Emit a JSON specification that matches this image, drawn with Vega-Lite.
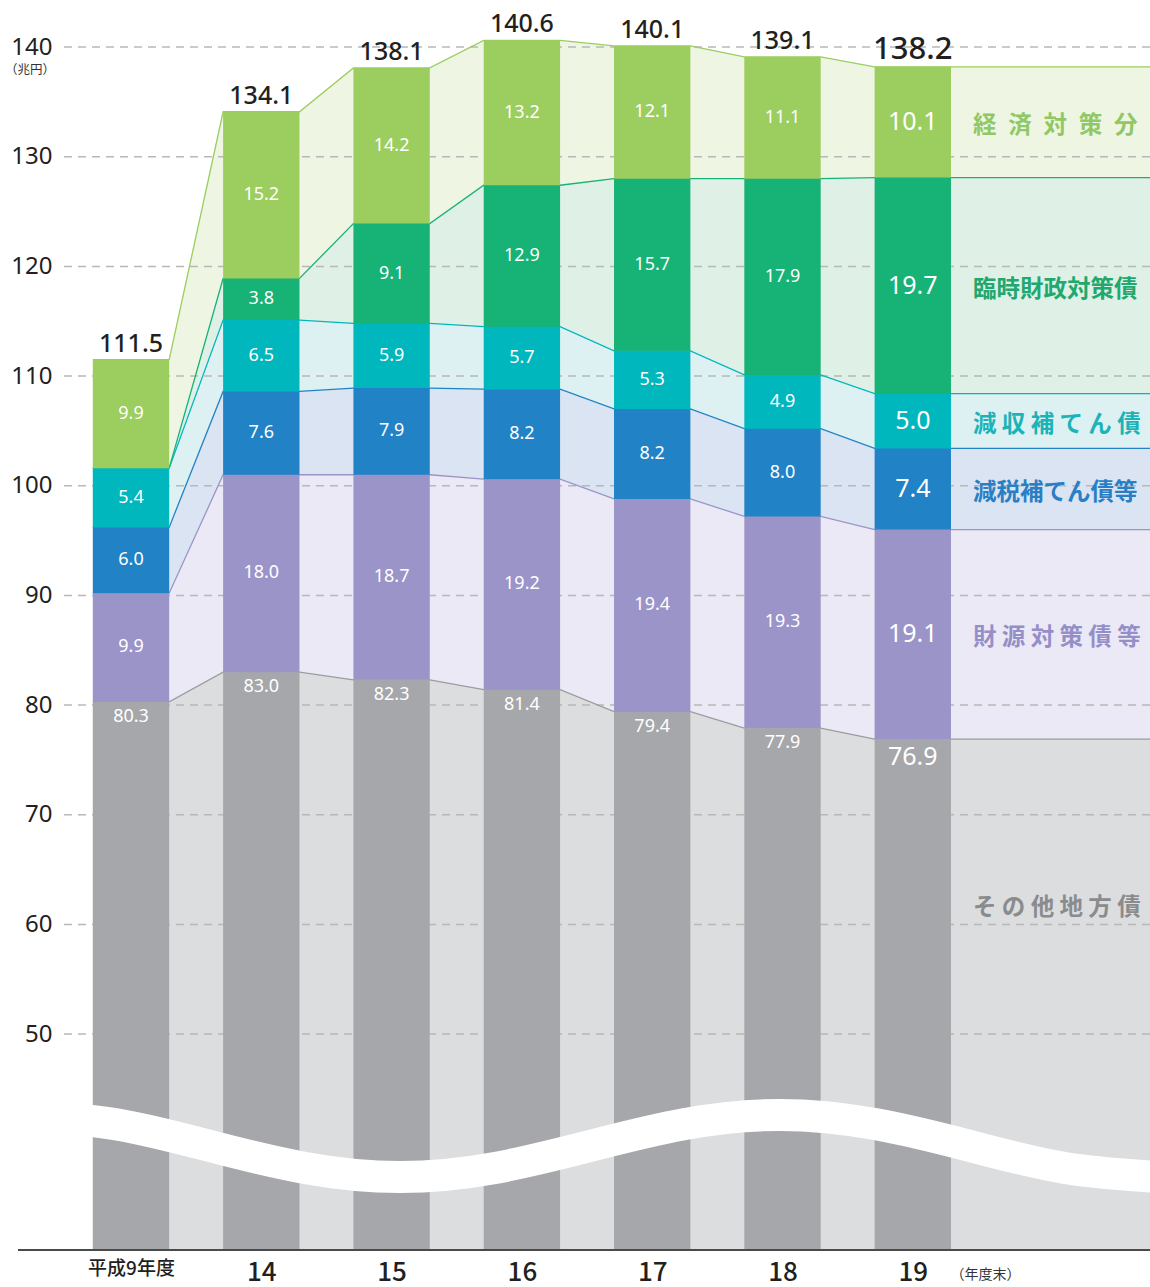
{
  "$schema": "https://vega.github.io/schema/vega-lite/v6.json",
  "width": 1092,
  "height": 1250,
  "autosize": {"type": "none"},
  "padding": {"left": 58, "top": 0, "right": 0, "bottom": 37},
  "background": "white",
  "config": {"view": {"stroke": null}, "font": "Noto Sans CJK JP"},
  "datasets": {
    "debt": [
      {"i": 0, "year": "平成9年度", "cat": "その他地方債", "ord": 0, "v": 80.3},
      {"i": 0, "year": "平成9年度", "cat": "財源対策債等", "ord": 1, "v": 9.9},
      {"i": 0, "year": "平成9年度", "cat": "減税補てん債等", "ord": 2, "v": 6.0},
      {"i": 0, "year": "平成9年度", "cat": "減収補てん債", "ord": 3, "v": 5.4},
      {"i": 0, "year": "平成9年度", "cat": "臨時財政対策債", "ord": 4, "v": 0},
      {"i": 0, "year": "平成9年度", "cat": "経済対策分", "ord": 5, "v": 9.9},
      {"i": 1, "year": "14", "cat": "その他地方債", "ord": 0, "v": 83.0},
      {"i": 1, "year": "14", "cat": "財源対策債等", "ord": 1, "v": 18.0},
      {"i": 1, "year": "14", "cat": "減税補てん債等", "ord": 2, "v": 7.6},
      {"i": 1, "year": "14", "cat": "減収補てん債", "ord": 3, "v": 6.5},
      {"i": 1, "year": "14", "cat": "臨時財政対策債", "ord": 4, "v": 3.8},
      {"i": 1, "year": "14", "cat": "経済対策分", "ord": 5, "v": 15.2},
      {"i": 2, "year": "15", "cat": "その他地方債", "ord": 0, "v": 82.3},
      {"i": 2, "year": "15", "cat": "財源対策債等", "ord": 1, "v": 18.7},
      {"i": 2, "year": "15", "cat": "減税補てん債等", "ord": 2, "v": 7.9},
      {"i": 2, "year": "15", "cat": "減収補てん債", "ord": 3, "v": 5.9},
      {"i": 2, "year": "15", "cat": "臨時財政対策債", "ord": 4, "v": 9.1},
      {"i": 2, "year": "15", "cat": "経済対策分", "ord": 5, "v": 14.2},
      {"i": 3, "year": "16", "cat": "その他地方債", "ord": 0, "v": 81.4},
      {"i": 3, "year": "16", "cat": "財源対策債等", "ord": 1, "v": 19.2},
      {"i": 3, "year": "16", "cat": "減税補てん債等", "ord": 2, "v": 8.2},
      {"i": 3, "year": "16", "cat": "減収補てん債", "ord": 3, "v": 5.7},
      {"i": 3, "year": "16", "cat": "臨時財政対策債", "ord": 4, "v": 12.9},
      {"i": 3, "year": "16", "cat": "経済対策分", "ord": 5, "v": 13.2},
      {"i": 4, "year": "17", "cat": "その他地方債", "ord": 0, "v": 79.4},
      {"i": 4, "year": "17", "cat": "財源対策債等", "ord": 1, "v": 19.4},
      {"i": 4, "year": "17", "cat": "減税補てん債等", "ord": 2, "v": 8.2},
      {"i": 4, "year": "17", "cat": "減収補てん債", "ord": 3, "v": 5.3},
      {"i": 4, "year": "17", "cat": "臨時財政対策債", "ord": 4, "v": 15.7},
      {"i": 4, "year": "17", "cat": "経済対策分", "ord": 5, "v": 12.1},
      {"i": 5, "year": "18", "cat": "その他地方債", "ord": 0, "v": 77.9},
      {"i": 5, "year": "18", "cat": "財源対策債等", "ord": 1, "v": 19.3},
      {"i": 5, "year": "18", "cat": "減税補てん債等", "ord": 2, "v": 8.0},
      {"i": 5, "year": "18", "cat": "減収補てん債", "ord": 3, "v": 4.9},
      {"i": 5, "year": "18", "cat": "臨時財政対策債", "ord": 4, "v": 17.9},
      {"i": 5, "year": "18", "cat": "経済対策分", "ord": 5, "v": 11.1},
      {"i": 6, "year": "19", "cat": "その他地方債", "ord": 0, "v": 76.9},
      {"i": 6, "year": "19", "cat": "財源対策債等", "ord": 1, "v": 19.1},
      {"i": 6, "year": "19", "cat": "減税補てん債等", "ord": 2, "v": 7.4},
      {"i": 6, "year": "19", "cat": "減収補てん債", "ord": 3, "v": 5.0},
      {"i": 6, "year": "19", "cat": "臨時財政対策債", "ord": 4, "v": 19.7},
      {"i": 6, "year": "19", "cat": "経済対策分", "ord": 5, "v": 10.1}
    ],
    "grid": [{"g": 50}, {"g": 60}, {"g": 70}, {"g": 80}, {"g": 90}, {"g": 100}, {"g": 110}, {"g": 120}, {"g": 130}, {"g": 140}],
    "wave": [
      {"wx": -0.852, "wy": 42.62},
      {"wx": -0.123, "wy": 41.79},
      {"wx": 0.606, "wy": 39.79},
      {"wx": 1.335, "wy": 37.79},
      {"wx": 2.064, "wy": 36.96},
      {"wx": 2.794, "wy": 37.79},
      {"wx": 3.523, "wy": 39.79},
      {"wx": 4.252, "wy": 41.79},
      {"wx": 4.981, "wy": 42.62},
      {"wx": 5.710, "wy": 41.79},
      {"wx": 6.439, "wy": 39.79},
      {"wx": 7.168, "wy": 37.79},
      {"wx": 7.897, "wy": 36.96}
    ]
  },
  "resolve": {"scale": {"color": "independent"}},
  "layer": [
    {
      "data": {"name": "debt"},
      "transform": [
        {"stack": "v", "groupby": ["i"], "sort": [{"field": "ord", "order": "ascending"}], "as": ["y0", "y1"]},
        {"calculate": "datum.i - 0.293", "as": "xl"},
        {"calculate": "datum.i == 6 ? 7.83 : datum.i + 0.293", "as": "xr"},
        {"fold": ["xl", "xr"], "as": ["edge", "ex"]}
      ],
      "mark": {"type": "area"},
      "encoding": {
        "x": {"field": "ex", "type": "quantitative", "scale": {"domain": [-0.5602, 7.8204], "nice": false, "zero": false},
          "axis": {"values": [0, 1, 2, 3, 4, 5, 6], "labelExpr": "['平成9年度','14','15','16','17','18','19'][datum.value]",
                   "grid": false, "ticks": false, "domain": false, "title": null, "labelPadding": 9,
                   "labelFontSize": {"condition": {"test": "datum.value == 0", "value": 19}, "value": 26},
                   "labelFont": "Noto Sans CJK JP", "labelFontWeight": 500, "labelColor": "#231f20",
                   "labelFlush": false, "labelOverlap": false}},
        "y": {"field": "y1", "type": "quantitative", "scale": {"domain": [30.31, 144.29], "nice": false, "zero": false, "clamp": true},
          "axis": {"values": [50, 60, 70, 80, 90, 100, 110, 120, 130, 140], "grid": false, "ticks": false, "domain": false, "title": null,
                   "labelPadding": 6, "labelFontSize": 24, "labelFont": "Noto Sans", "labelColor": "#231f20"}},
        "y2": {"field": "y0"},
        "color": {"field": "cat", "type": "nominal", "legend": null,
          "scale": {"domain": ["その他地方債", "財源対策債等", "減税補てん債等", "減収補てん債", "臨時財政対策債", "経済対策分"],
                    "range": ["#dcdddf", "#ebe9f5", "#dae4f3", "#ddf1f3", "#dff0e6", "#eef5e3"]}}
      }
    },
    {
      "data": {"name": "grid"},
      "mark": {"type": "rule", "color": "#b8b8b8", "strokeWidth": 1.5, "strokeDash": [8, 6]},
      "encoding": {
        "y": {"field": "g", "type": "quantitative", "scale": {"domain": [30.31, 144.29], "nice": false, "zero": false, "clamp": true}}
      }
    },
    {
      "data": {"name": "debt"},
      "transform": [
        {"stack": "v", "groupby": ["i"], "sort": [{"field": "ord", "order": "ascending"}], "as": ["y0", "y1"]},
        {"calculate": "datum.i - 0.293", "as": "xl"},
        {"calculate": "datum.i == 6 ? 7.83 : datum.i + 0.293", "as": "xr"},
        {"fold": ["xl", "xr"], "as": ["edge", "ex"]}
      ],
      "mark": {"type": "line", "strokeWidth": 1.3},
      "encoding": {
        "x": {"field": "ex", "type": "quantitative", "scale": {"domain": [-0.5602, 7.8204], "nice": false, "zero": false}},
        "y": {"field": "y1", "type": "quantitative", "scale": {"domain": [30.31, 144.29], "nice": false, "zero": false, "clamp": true}},
        "color": {"field": "cat", "type": "nominal", "legend": null,
          "scale": {"domain": ["その他地方債", "財源対策債等", "減税補てん債等", "減収補てん債", "臨時財政対策債", "経済対策分"],
                    "range": ["#9c9c9e", "#9b94c8", "#2182c6", "#00b7bd", "#17b275", "#9ccd5f"]}}
      }
    },
    {
      "data": {"name": "debt"},
      "transform": [
        {"stack": "v", "groupby": ["i"], "sort": [{"field": "ord", "order": "ascending"}], "as": ["y0", "y1"]},
        {"calculate": "datum.i - 0.293", "as": "bl"},
        {"calculate": "datum.i + 0.293", "as": "br"}
      ],
      "mark": {"type": "rect"},
      "encoding": {
        "x": {"field": "bl", "type": "quantitative", "scale": {"domain": [-0.5602, 7.8204], "nice": false, "zero": false}},
        "x2": {"field": "br"},
        "y": {"field": "y1", "type": "quantitative", "scale": {"domain": [30.31, 144.29], "nice": false, "zero": false, "clamp": true}},
        "y2": {"field": "y0"},
        "color": {"field": "cat", "type": "nominal", "legend": null,
          "scale": {"domain": ["その他地方債", "財源対策債等", "減税補てん債等", "減収補てん債", "臨時財政対策債", "経済対策分"],
                    "range": ["#a6a7aa", "#9b94c8", "#2182c6", "#00b7bd", "#17b275", "#9ccd5f"]}}
      }
    },
    {
      "data": {"name": "wave"},
      "mark": {"type": "line", "interpolate": "natural", "color": "white", "strokeWidth": 32, "strokeCap": "butt"},
      "encoding": {
        "x": {"field": "wx", "type": "quantitative", "scale": {"domain": [-0.5602, 7.8204], "nice": false, "zero": false}},
        "y": {"field": "wy", "type": "quantitative", "scale": {"domain": [30.31, 144.29], "nice": false, "zero": false, "clamp": true}}
      }
    },
    {
      "data": {"values": [{}]},
      "mark": {"type": "rule", "color": "#4a4a4a", "strokeWidth": 2},
      "encoding": {
        "x": {"datum": -0.867, "type": "quantitative", "scale": {"domain": [-0.5602, 7.8204], "nice": false, "zero": false}},
        "x2": {"datum": 7.83},
        "y": {"datum": 30.31, "type": "quantitative", "scale": {"domain": [30.31, 144.29], "nice": false, "zero": false, "clamp": true}}
      }
    },
    {
      "data": {"name": "debt"},
      "transform": [
        {"stack": "v", "groupby": ["i"], "sort": [{"field": "ord", "order": "ascending"}], "as": ["y0", "y1"]},
        {"filter": "datum.ord > 0 && datum.v > 0"},
        {"calculate": "(datum.y0 + datum.y1) / 2", "as": "mid"}
      ],
      "mark": {"type": "text", "color": "white", "font": "Noto Sans", "baseline": "middle", "align": "center"},
      "encoding": {
        "x": {"field": "i", "type": "quantitative", "scale": {"domain": [-0.5602, 7.8204], "nice": false, "zero": false}},
        "y": {"field": "mid", "type": "quantitative", "scale": {"domain": [30.31, 144.29], "nice": false, "zero": false, "clamp": true}},
        "text": {"field": "v", "type": "quantitative", "format": ".1f"},
        "size": {"condition": {"test": "datum.i == 6", "value": 25}, "value": 18}
      }
    },
    {
      "data": {"name": "debt"},
      "transform": [
        {"stack": "v", "groupby": ["i"], "sort": [{"field": "ord", "order": "ascending"}], "as": ["y0", "y1"]},
        {"filter": "datum.ord == 0"}
      ],
      "mark": {"type": "text", "color": "white", "font": "Noto Sans", "baseline": "top", "align": "center", "dy": 6},
      "encoding": {
        "x": {"field": "i", "type": "quantitative", "scale": {"domain": [-0.5602, 7.8204], "nice": false, "zero": false}},
        "y": {"field": "y1", "type": "quantitative", "scale": {"domain": [30.31, 144.29], "nice": false, "zero": false, "clamp": true}},
        "text": {"field": "v", "type": "quantitative", "format": ".1f"},
        "size": {"condition": {"test": "datum.i == 6", "value": 25}, "value": 18}
      }
    },
    {
      "data": {"name": "debt"},
      "transform": [
        {"aggregate": [{"op": "sum", "field": "v", "as": "total"}], "groupby": ["i"]}
      ],
      "mark": {"type": "text", "color": "#231f20", "font": "Noto Sans", "baseline": "alphabetic", "align": "center", "dy": -8, "fontWeight": 500},
      "encoding": {
        "x": {"field": "i", "type": "quantitative", "scale": {"domain": [-0.5602, 7.8204], "nice": false, "zero": false}},
        "y": {"field": "total", "type": "quantitative", "scale": {"domain": [30.31, 144.29], "nice": false, "zero": false, "clamp": true}},
        "text": {"field": "total", "type": "quantitative", "format": ".1f"},
        "size": {"condition": {"test": "datum.i == 6", "value": 31}, "value": 25}
      }
    },
    {
      "data": {"name": "debt"},
      "transform": [
        {"stack": "v", "groupby": ["i"], "sort": [{"field": "ord", "order": "ascending"}], "as": ["y0", "y1"]},
        {"filter": "datum.i == 6"},
        {"calculate": "datum.ord == 0 ? 61.9 : (datum.y0 + datum.y1) / 2", "as": "ly"},
        {"calculate": "datum.ord == 5 ? '経\u2002済\u2002対\u2002策\u2002分' : datum.ord == 4 ? '臨時財政対策債' : datum.ord == 3 ? '減 収 補 て ん 債' : datum.ord == 2 ? '減税補てん債等' : datum.ord == 1 ? '財 源 対 策 債 等' : 'そ の 他 地 方 債'", "as": "lab"}
      ],
      "mark": {"type": "text", "font": "Noto Sans CJK JP", "fontSize": 23.5, "fontWeight": 600, "baseline": "middle", "align": "left", "dy": 4},
      "encoding": {
        "x": {"datum": 6.462, "type": "quantitative", "scale": {"domain": [-0.5602, 7.8204], "nice": false, "zero": false}},
        "y": {"field": "ly", "type": "quantitative", "scale": {"domain": [30.31, 144.29], "nice": false, "zero": false, "clamp": true}},
        "text": {"field": "lab"},
        "color": {"field": "cat", "type": "nominal", "legend": null,
          "scale": {"domain": ["その他地方債", "財源対策債等", "減税補てん債等", "減収補てん債", "臨時財政対策債", "経済対策分"],
                    "range": ["#8a8b8d", "#958fc8", "#2a7fc4", "#1cb3b8", "#20a86e", "#8fc864"]}}
      }
    },
    {
      "data": {"values": [{"t": "（年度末）"}]},
      "mark": {"type": "text", "font": "Noto Sans CJK JP", "fontSize": 14, "color": "#333333", "align": "left", "baseline": "middle", "dy": 25},
      "encoding": {
        "x": {"datum": 6.29, "type": "quantitative", "scale": {"domain": [-0.5602, 7.8204], "nice": false, "zero": false}},
        "y": {"datum": 30.31, "type": "quantitative", "scale": {"domain": [30.31, 144.29], "nice": false, "zero": false, "clamp": true}},
        "text": {"field": "t"}
      }
    },
    {
      "data": {"values": [{"t": "（兆円）"}]},
      "mark": {"type": "text", "font": "Noto Sans CJK JP", "fontSize": 12.5, "color": "#333333", "align": "center", "baseline": "middle", "dy": 23},
      "encoding": {
        "x": {"datum": -0.775, "type": "quantitative", "scale": {"domain": [-0.5602, 7.8204], "nice": false, "zero": false}},
        "y": {"datum": 140, "type": "quantitative", "scale": {"domain": [30.31, 144.29], "nice": false, "zero": false, "clamp": true}},
        "text": {"field": "t"}
      }
    }
  ]
}
